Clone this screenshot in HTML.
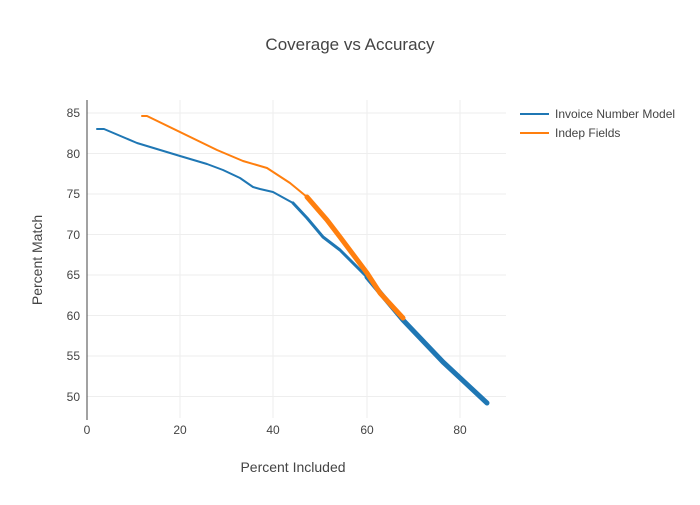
<!DOCTYPE html>
<html><head><style>body{margin:0;background:#fff}svg text{font-family:"Liberation Sans",sans-serif}</style></head><body>
<svg width="700" height="500" xmlns="http://www.w3.org/2000/svg">
<rect width="700" height="500" fill="#fff"/>
<g stroke="#eee" stroke-width="1">
<line x1="180" y1="100" x2="180" y2="418"/><line x1="273" y1="100" x2="273" y2="418"/><line x1="367" y1="100" x2="367" y2="418"/><line x1="460" y1="100" x2="460" y2="418"/>
<line x1="87" y1="113" x2="506" y2="113"/><line x1="87" y1="153.5" x2="506" y2="153.5"/><line x1="87" y1="194" x2="506" y2="194"/><line x1="87" y1="234.5" x2="506" y2="234.5"/><line x1="87" y1="275" x2="506" y2="275"/><line x1="87" y1="315.5" x2="506" y2="315.5"/><line x1="87" y1="356" x2="506" y2="356"/><line x1="87" y1="396.5" x2="506" y2="396.5"/>
</g>
<line x1="87" y1="100" x2="87" y2="420" stroke="#444" stroke-width="1"/>
<g fill="none" stroke-linejoin="round" stroke-linecap="round">
<polyline stroke="#1f77b4" stroke-width="2" points="97,129 104,129 137,143 180,156 207,164 223,170 240,178 253,187 260,189 273,192 293,203"/>
<polyline stroke="#1f77b4" stroke-width="3" points="293,203 307,218 323,237 340,250 367,277"/>
<polyline stroke="#1f77b4" stroke-width="5" points="367,277 403,320 443,362 487,403"/>
<polyline stroke="#ff7f0e" stroke-width="2" points="142,116 147,116 217,150 243,161 267,168 290,183 307,197"/>
<polyline stroke="#ff7f0e" stroke-width="5" points="307,197 327,220 340,237 367,273 380,293 403,318"/>
</g>
<g font-size="12" fill="#444" text-anchor="end">
<text x="80" y="117">85</text><text x="80" y="158">80</text><text x="80" y="198">75</text><text x="80" y="239">70</text><text x="80" y="279">65</text><text x="80" y="320">60</text><text x="80" y="360">55</text><text x="80" y="401">50</text>
</g>
<g font-size="12" fill="#444" text-anchor="middle">
<text x="87" y="434">0</text><text x="180" y="434">20</text><text x="273" y="434">40</text><text x="367" y="434">60</text><text x="460" y="434">80</text>
</g>
<text x="350" y="50" font-size="17" fill="#444" text-anchor="middle">Coverage vs Accuracy</text>
<text x="293" y="472" font-size="14" fill="#444" text-anchor="middle">Percent Included</text>
<text x="42" y="260" font-size="14" fill="#444" text-anchor="middle" transform="rotate(-90 42 260)">Percent Match</text>
<line x1="520" y1="114" x2="549" y2="114" stroke="#1f77b4" stroke-width="2"/>
<line x1="520" y1="133" x2="549" y2="133" stroke="#ff7f0e" stroke-width="2"/>
<text x="555" y="118" font-size="12" fill="#444">Invoice Number Model</text>
<text x="555" y="137" font-size="12" fill="#444">Indep Fields</text>
</svg>
</body></html>
